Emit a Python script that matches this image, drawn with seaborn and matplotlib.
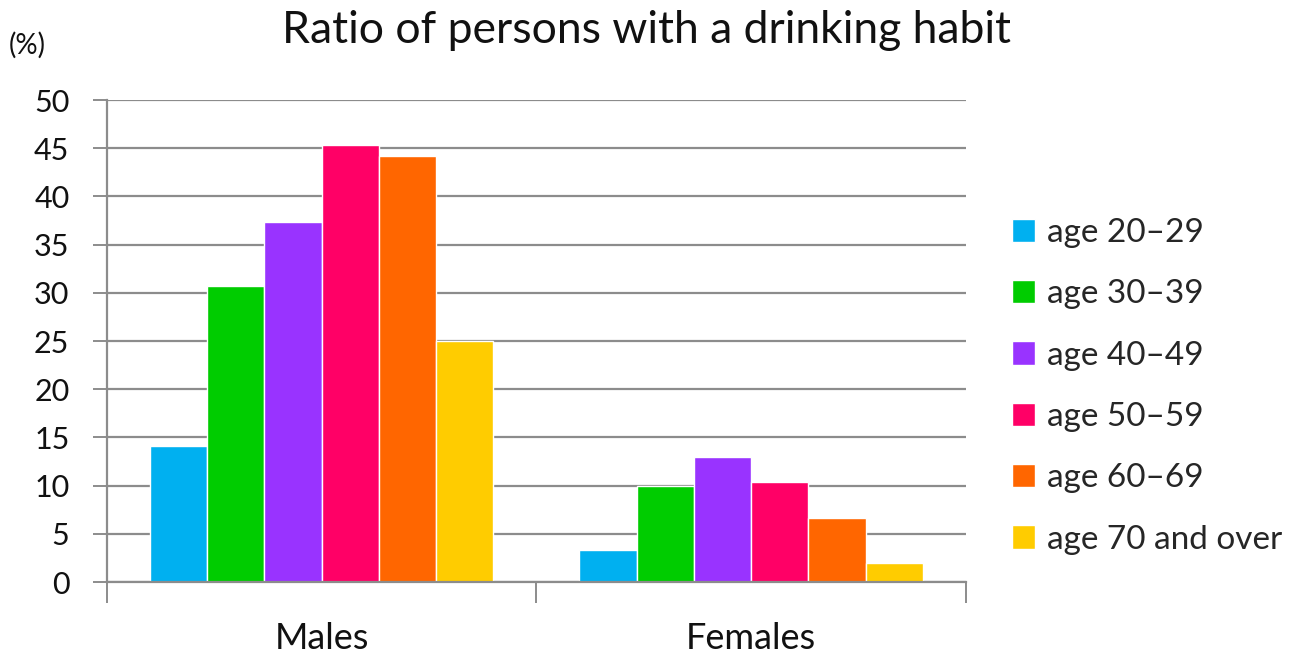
import matplotlib
matplotlib.use("Agg")
import matplotlib.pyplot as plt
from matplotlib.ticker import FixedLocator
import seaborn as sns
import pandas as pd

# Share of persons with a drinking habit (%), by sex and age group
sexes = ["Males", "Females"]
age_groups = ["age 20\u201329", "age 30\u201339", "age 40\u201349",
              "age 50\u201359", "age 60\u201369", "age 70 and over"]
males = [14.1, 30.7, 37.3, 45.3, 44.2, 25.0]
females = [3.3, 10.0, 13.0, 10.4, 6.6, 2.0]
y_ticks = [0, 5, 10, 15, 20, 25, 30, 35, 40, 45, 50]

colors = ["#00B0F0", "#00CC00", "#9933FF", "#FF0066", "#FF6600", "#FFCC00"]

rows = []
for sex, vals in zip(sexes, [males, females]):
    for age, v in zip(age_groups, vals):
        rows.append({"sex": sex, "age": age, "ratio": v})
df = pd.DataFrame(rows)

sns.set_theme(style="white")
plt.rcParams["font.family"] = ["Lato", "DejaVu Sans"]

fig = plt.figure(figsize=(13, 6.66), dpi=100)
ax = fig.add_axes([0.0823, 0.1261, 0.6607, 0.7237])

sns.barplot(data=df, x="sex", y="ratio", hue="age", order=sexes,
            hue_order=age_groups, palette=colors, width=0.8,
            saturation=1, errorbar=None, ax=ax, legend=True)

grid_c = "#8C8C8C"
ax.set_ylim(0, 50)
ax.set_xlim(-0.5, 1.5)
ax.set_yticks(y_ticks)
ax.set_yticklabels([str(t) for t in y_ticks], fontsize=22, color="#111111")
ax.yaxis.grid(True, color=grid_c, linewidth=1.6)
ax.set_axisbelow(True)
ax.tick_params(axis="y", left=True, length=10, width=1.4, color=grid_c, pad=17)
ax.xaxis.set_minor_locator(FixedLocator([-0.5, 0.5, 1.5]))
ax.tick_params(axis="x", which="major", bottom=False, length=0, pad=29,
               labelsize=26, labelcolor="#111111")
ax.tick_params(axis="x", which="minor", bottom=True, length=15, width=1.4,
               color=grid_c)
for side in ["top", "right"]:
    ax.spines[side].set_visible(False)
for side in ["left", "bottom"]:
    ax.spines[side].set_color(grid_c)
    ax.spines[side].set_linewidth(1.6)
ax.set_xlabel("")
ax.set_ylabel("")

handles, labels = ax.get_legend_handles_labels()
ax.get_legend().remove()
fig.legend(handles, labels, loc="center left", bbox_to_anchor=(0.768, 0.42),
           frameon=False, fontsize=24, handlelength=0.7, handleheight=0.7,
           handletextpad=0.35, labelspacing=0.94, borderaxespad=0)

fig.suptitle("Ratio of persons with a drinking habit", x=0.497, y=0.985,
             fontsize=32, color="#111111")
fig.text(0.007, 0.92, "(%)", fontsize=20, color="#111111")

fig.savefig("out.png", dpi=100, facecolor="white")
